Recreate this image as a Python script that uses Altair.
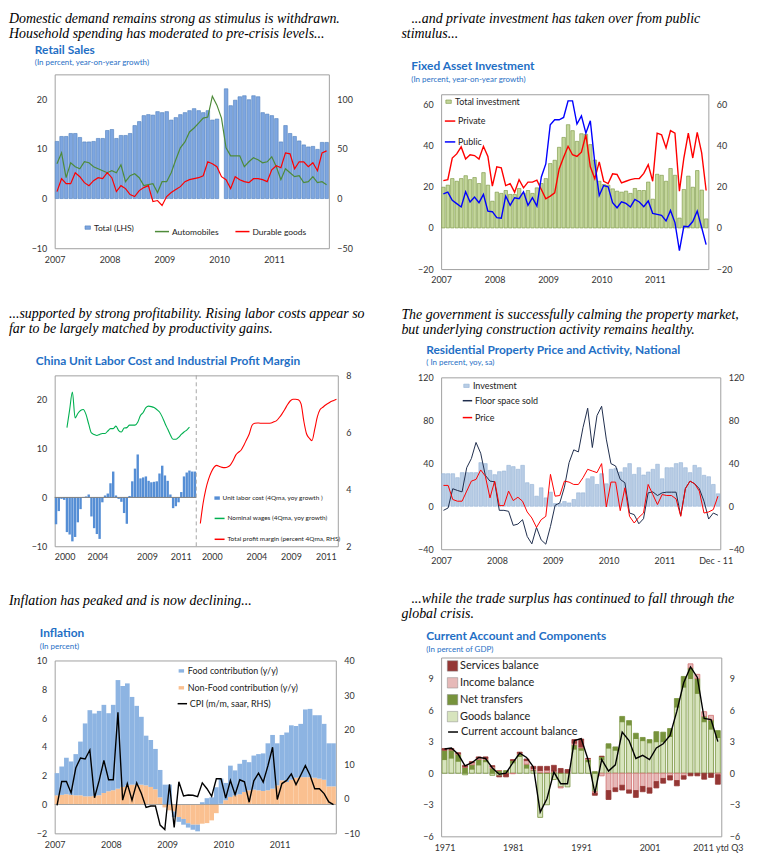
import altair as alt
import pandas as pd

FONT = "Lato"
SERIF = "Liberation Serif"
BLUE = "#1F6FC5"
AX = "#333333"
RECT = "M-1,-0.62L1,-0.62L1,0.62L-1,0.62Z"

# ---------------- captions / titles ----------------
cap1 = ["Domestic demand remains strong as stimulus is withdrawn.",
        "Household spending has moderated to pre-crisis levels..."]
cap2 = ["\u2800...and private investment has taken over from public",
        "stimulus..."]
cap3 = ["...supported by strong profitability. Rising labor costs appear so",
        "far to be largely matched by productivity gains."]
cap4 = ["The government is successfully calming the property market,",
        "but underlying construction activity remains healthy."]
cap5 = ["Inflation has peaked and is now declining..."]
cap6 = ["\u2800...while the trade surplus has continued to fall through the",
        "global crisis."]

# ---------------- panel 1: retail sales (monthly 2007-2011) ----------------
retail_total = [11.5, 12.5, 12.5, 13.1, 13.1, 12.3, 11.4, 11.4, 11.5, 12.1, 12.1, 13.7,
                13.9, 12.1, 12.7, 12.7, 13.1, 14.7, 15.5, 16.7, 16.9, 16.8, 17.5, 17.3,
                17.5, 15.8, 16.3, 16.9, 17.3, 17.7, 18.1, 17.7, 17.3, 17.7, 15.8, 16.0,
                None, 22.1, 18.7, 19.8, 20.5, 20.7, 19.9, 20.7, 20.5, 17.3, 17.0, 16.7,
                16.1, 11.4, 14.7, 13.1, 12.5, 11.6, 10.8, 10.4, 10.5, 9.9, 11.3, 11.3]
retail_auto = [35, 46, 21, 36, 32, 30, 37, 36, 32, 30, 28, 26, 28, 26, 34, 17, 23, 25, 21, 13,
               14, 15, 6, 17, 17, 26, 39, 51, 57, 67, 71, 76, 81, 82, 103, 94, 81, 51, 43, 43,
               43, 32, 37, 41, 39, 36, 37, 42, 32, 19, 30, 26, 22, 23, 16, 17, 22, 16, 17, 14]
retail_durable = [7, 20, 15, 15, 26, 22, 16, 13, 18, 21, 20, 26, 21, 7, 13, 10, 4, 2, 8, 11,
                  13, -3, -2, -7, 2, 6, 9, 12, 17, 19, 20, 21, 23, 37, 35, 32, 22, 19, 10, 22,
                  19, 17, 16, 20, 20, 19, 17, 29, 33, 31, 46, 45, 30, 37, 37, 32, 36, 28, 46, 48]

# ---------------- panel 2: fixed asset investment ----------------
fai_total = [19.8, 20.8, 24.0, 22.7, 24.0, 25.4, 23.5, 24.5, 21.6, 26.9, 20.8, 13.0,
             17.4, 16.8, 18.2, 16.3, 16.3, 19.2, 16.8, 18.2, 16.8, 19.5, 21.6, 24.0,
             31.3, 32.9, 39.2, 44.0, 50.2, 47.3, 42.1, 45.8, 45.5, 40.5, 33.0, 22.7,
             21.1, 20.8, 19.0, 17.9, 17.4, 17.9, 16.8, 19.2, 18.2, 18.2, 22.3, 14.0,
             26.1, 25.6, 22.7, 28.9, 25.6, 4.8, 18.7, 25.2, 19.8, 27.9, 18.4, 4.4]
fai_private = [23, 23.5, 34, 36, 39.4, 33.5, 35.6, 35.2, 33.5, 39.7, 34.8, 20.3, 29.7, 29.2, 20.6,
               21.5, 17.4, 23.5, 19.5, 22.3, 22.3, 23.2, 18.7, 14.2, 15.5, 17.1, 28.7, 34.4, 39.7,
               35.6, 34.8, 36.8, 45.3, 29.7, 23.9, 32.1, 22.7, 21.6, 26.3, 26, 21.9, 22.7, 23.5,
               24, 24, 26.5, 30.8, 22.7, 46.1, 45.3, 38.9, 47.3, 46.1, 17.9, 34, 46.1, 34, 46.5,
               36.5, 18.2]
fai_public = [16.6, 17.4, 13.4, 11.8, 10.2, 17.6, 12.6, 15, 12.3, 16.3, 8.2, 7.9, 5, 4.7, 15.5,
              11, 14.7, 14.2, 17.6, 11, 14.7, 10.6, 24.8, 31.1, 50.2, 52.6, 52.6, 53.7, 61.8,
              61.8, 50.5, 54.5, 46.1, 52.1, 31.6, 15.8, 20.6, 20, 12.3, 9.8, 12.7, 11.9, 10.2,
              13.9, 12.6, 10.3, 13.1, 7.1, 6.6, 6.1, 3.4, 8.5, 2.6, -11, 0.8, 0.6, 3.1, 8.2,
              0.2, -8.1]

# ---------------- panel 3: unit labor cost / profit margin (quarterly) ----------------
ulc = [-5.5, -2.8, -0.3, -0.5, -7.1, -7.6, -9.0, -8.1, -5.1, -2.4, 0.1, 0.2, 0.6, -3.9,
       -6.3, -7.5, -8.5, -1.0, 0.4, 0.8, 2.9, 5.3, 0.4, -0.3, -0.9, -3.2, -5.4, 0.3, 3.3,
       5.9, 8.8, 3.9, 4.1, 4.3, 3.4, 3.1, 3.2, 3.3, 4.9, 6.5, 4.5, 3.4, 0.6, -2.2, -1.8,
       -1.0, 1.1, 4.3, 5.1, 5.5, 5.3, 5.3]
wages = [None, None, None, None, 14.3, 18.0, 21.6, 16.3, 17.2, 17.8, 18.0, 17.0, 15.0, 13.2,
         12.9, 12.7, 12.9, 13.1, 13.1, 13.6, 14.1, 14.1, 14.6, 13.7, 13.4, 14.2, 14.3, 14.8,
         14.8, 14.8, 15.4, 16.8, 17.4, 18.4, 18.7, 18.6, 18.4, 18.0, 17.5, 16.5, 15.2, 14.0,
         12.8, 11.9, 11.9, 12.3, 12.9, 13.4, 13.8, 14.4, None, None]
profit = [None, 2.8, 3.5, 4.0, 4.35, 4.6, 4.77, 4.84, 4.8, 4.77, 4.76, 4.78, 4.85, 5.0, 5.2,
          5.3, 5.38, 5.55, 5.75, 5.95, 6.25, 6.32, 6.33, 6.32, 6.32, 6.32, 6.32, 6.33, 6.37,
          6.41, 6.52, 6.65, 6.8, 6.97, 7.1, 7.16, 7.16, 7.14, 7.0, 6.4, 5.95, 5.8, 5.71, 6.1,
          6.55, 6.8, 6.88, 6.96, 7.02, 7.08, 7.12, 7.16]
ulc_label_pos = [3.65, 15.7, 33.9, 46.3]
profit_label_pos = [5.7, 22.1, 34.8, 47.6]
ulc_year_labels = ["2000", "2004", "2009", "2011"]

# ---------------- panel 4: residential property ----------------
prop_invest = [30.3, 30.3, 30.3, 26.6, 31.3, 31.3, 31.3, 31.3, 40.6, 39.7, 33.4, 29.4,
               32.2, 32.8, 38.1, 36.9, 34.4, 38.1, 21.9, 20.3, 9.4, 17.2, 7.8, 13.1,
               2.5, 2.5, 4.4, 3.1, 6.3, 12.5, 12.5, 25.6, 27.5, 20.3, 30.3, 20.9,
               34.4, 35.0, 31.9, 35.9, 39.7, 29.7, 35.9, 29.1, 31.9, 34.4, 39.1, 25.6,
               35.9, 35.9, 39.7, 40.6, 35.9, 31.3, 38.1, 35.9, 28.8, 27.5, 20.3, 11.6]
prop_floor = [-3.8, -1.6, 16.3, 14.7, 13.4, 35.9, 44.4, 59.4, 49.4, 28.8, 23.4, 22.8, -3.8,
              -3.8, -4.7, -17.8, -16.6, -12.5, -28.1, -35, -19.7, -31.3, -35.3, -18.8, 0.9,
              3.1, 17.8, 40.6, 52.5, 50.6, 73.4, 91.3, 54.7, 84.4, 93.1, 62.5, 39.7, 37.5, 25,
              21.9, -6.3, -7.8, -16.3, -11.6, 12.5, 13.4, 10, 12.5, 13.1, 13.1, 13.1, -8.8,
              16.6, 23.4, 20.9, 16.3, 4.7, -11.9, -6.3, -8.4]
prop_price = [19.4, 19.4, 6.3, 4.7, 4.7, 14.1, 23.4, 25, 33.8, 28.1, 7.8, 23.4, 0.6, 0.6, 14.1,
              5.3, 8.4, 4.7, -5.3, -10.9, -19.7, -12.5, -9.4, 29.7, 9.4, 10, 23.4, 22.5, 20.3,
              20.3, 26.6, 34.4, 32.8, 31.3, 39.7, -0.6, 22.5, 22.5, -4.1, 17.2, -9.4, -15.6,
              -10.3, -6.3, 20.3, 10.9, 1.6, 10.9, 10, 10, 6.9, -9.4, 16.3, 23.4, 20.9, 14.1,
              -6.3, -5.3, -3.1, 9.4]

# ---------------- panel 5: inflation ----------------
infl_food = [1.54, 1.97, 2.53, 2.32, 2.86, 3.73, 5.06, 5.98, 5.72, 5.86, 6.12, 5.42, 5.93,
             7.54, 7.01, 7.08, 6.09, 5.47, 4.71, 3.45, 3.26, 2.8, 1.9, 1.38, 1.38, -0.39,
             -0.33, -0.4, -0.3, -0.35, -0.46, 0.16, 0.44, 0.5, 1.2, 1.75, 1.2, 2.17, 1.73,
             2.12, 2.23, 1.95, 2.37, 2.51, 2.61, 3.26, 3.73, 2.92, 3.15, 3.44, 3.78, 3.59,
             3.7, 4.7, 4.74, 4.34, 4.4, 3.88, 2.99, 2.99]
infl_nonfood = [0.64, 0.67, 0.71, 0.67, 0.64, 0.64, 0.57, 0.57, 0.6, 0.64, 0.8, 0.92, 0.99,
                1.1, 1.22, 1.33, 1.38, 1.38, 1.38, 1.33, 1.22, 1.06, 0.5, -0.2, -0.4, -0.48,
                -0.87, -1.0, -1.3, -1.4, -1.4, -1.33, -1.29, -1.1, -0.6, 0.05, 0.3, 0.53, 0.64,
                0.71, 0.87, 0.99, 1.03, 0.99, 0.94, 0.99, 1.1, 1.33, 1.68, 1.56, 1.72, 1.86,
                1.9, 1.9, 1.9, 1.86, 1.8, 1.72, 1.26, 1.26]
infl_cpi = [-1.9, 5.0, 5.0, 1.7, 8.9, 11.8, 11.5, 14.1, 0.3, 5.3, 11.1, 5.5, 5.5, 25, -0.4, 4.4,
            -0.4, 4.6, 1.5, -2.5, -2.1, -2.1, -7.6, -8.9, 4.2, -8.3, 4.9, 0.8, 1.1, 1.0, 0.6,
            4.6, 2.9, 0.7, 5.8, 5.8, 0.2, 5.3, 1.2, 5.5, 4.9, -1.0, 5.2, 7.4, 4.8, 9.5, 14.9,
            -0.2, 4.4, 5.3, 7.2, 4.1, 6.8, 9.6, 6.8, 2.9, 2.9, 1.5, -0.9, -1.7]

# ---------------- panel 6: current account (annual 1971-2011) ----------------
ca_goods = [1.3, 1.45, 1.15, -0.15, 0.4, 0.8, 1.1, -0.2, -0.25, 0.1, 1.0, 1.6, 0.5, 0.25,
            -4.2, -3.0, -0.6, -1.3, -1.3, 2.3, 2.2, 1.1, -1.75, 1.3, 2.4, 2.2, 4.9, 4.6, 3.3,
            3.1, 2.9, 3.0, 3.0, 3.5, 6.3, 8.2, 9.0, 7.6, 4.9, 4.2, 3.4]
ca_transfers = [0.9, 0.75, 0.65, 0.55, 0.4, 0.5, 0.2, 0.47, 0.25, 0.15, 0.2, 0.2, 0.35, 0.05,
                0.05, 0.05, 0.1, 0.05, 0.05, 0.4, 0.2, 0.2, 0.15, 0.3, 0.4, 0.3, 0.5, 0.4, 0.5,
                0.3, 0.3, 0.95, 0.9, 0.75, 0.8, 1.0, 1.0, 1.4, 0.5, 0.85, 0.65]
ca_income = [0.0, 0.05, 0.05, 0.05, 0.2, 0.15, 0.1, 0.15, 0.0, -0.05, -0.05, 0.1, 0.35, 0.15,
             0.2, 0.25, 0.1, -0.1, 0.0, 0.15, 0.1, 0.1, -0.15, -0.25, -1.65, -1.4, -1.15, -1.6,
             -1.65, -1.26, -1.4, -0.8, -0.5, -0.25, -0.7, -0.25, 0.4, 0.4, 0.45, 0.45, -0.15]
ca_services = [0.15, 0.1, 0.1, 0.15, 0.1, 0.1, 0.15, 0.1, -0.1, -0.3, 0.1, 0.1, 0.15, 0.2,
               0.4, 0.35, 0.55, 0.4, 0.3, 0.35, 0.75, 0.0, -0.2, 0.0, -0.85, -0.35, -0.45, -0.3,
               -0.65, -0.5, -0.5, -0.6, -0.45, -0.4, -0.5, -0.32, -0.25, -0.25, -0.57, -0.4, -0.9]
ca_balance = [2.3, 2.4, 1.8, 0.7, 1.0, 1.5, 1.4, 0.5, -0.1, 0.0, 1.0, 1.9, 1.5, 0.6, -3.7, -2.4,
              0.1, -1.0, -1.0, 3.1, 3.3, 1.3, -1.9, 1.3, 0.2, 0.8, 3.9, 3.1, 1.4, 1.7, 1.3, 2.4,
              2.8, 3.6, 5.9, 8.6, 10.1, 9.1, 5.2, 5.1, 3.0]
ca_first_year = 1971

# left extents (axis area) shared by every cell of a column
E1 = 46
E2 = 40


# ---------------- helpers ----------------
def lab_axis(**kw):
    base = dict(domain=False, ticks=False, grid=False, labelFont=FONT, labelFontSize=9,
                labelColor=AX, labelOverlap=False, labelFlush=False)
    base.update(kw)
    return alt.Axis(**base)


def y_axis(orient, values, ext):
    return lab_axis(orient=orient, values=values, labelPadding=8, minExtent=ext, maxExtent=ext)


def month_x_axis(extra=None):
    vals = [0, 12, 24, 36, 48]
    expr = "format(2007 + floor(datum.value/12), 'd')"
    if extra is not None:
        vals = vals + [extra]
        expr = "datum.value > 50 ? 'Dec - 11' : " + expr
    return lab_axis(values=vals, labelExpr=expr, labelPadding=7)


def legend(x, y, direction="vertical", symbol="stroke", size=150, fs=9, row=6, col=10,
           stroke_color=None, stroke_w=None, label_offset=2):
    kw = dict(orient="none", legendX=x, legendY=y, direction=direction, title=None,
              symbolType=symbol, symbolSize=size, labelFont=FONT, labelFontSize=fs,
              labelColor="#222", rowPadding=row, columnPadding=col, labelOffset=label_offset,
              padding=0)
    if stroke_color is not None:
        kw["symbolStrokeColor"] = stroke_color
    if stroke_w is not None:
        kw["symbolStrokeWidth"] = stroke_w
    return alt.Legend(**kw)


def chart_title(text, dx, sub=None, offset=8):
    kw = dict(text=text, anchor="start", frame="group", dx=dx, font=FONT, fontSize=12,
              fontWeight="bold", color=BLUE, offset=offset)
    if sub is not None:
        kw.update(subtitle=sub, subtitleFont=FONT, subtitleFontSize=8, subtitleColor=BLUE,
                  subtitlePadding=3)
    return alt.TitleParams(**kw)


def long_df(n, series, offset=0.5):
    rows = []
    for name, vals in series:
        for i, v in enumerate(vals):
            rows.append({"x": i + offset, "v": v, "s": name})
    return pd.DataFrame(rows)


def bar_df(vals, gap0=0.12, gap1=0.9, shift=0):
    return pd.DataFrame({"x0": [shift + i + gap0 for i in range(len(vals))],
                         "x1": [shift + i + gap1 for i in range(len(vals))],
                         "v": vals})


def stack_df(components, gap0=0.12, gap1=0.9):
    rows = []
    n = len(components[0][1])
    for i in range(n):
        pos = 0.0
        neg = 0.0
        for name, vals in components:
            v = vals[i]
            if v >= 0:
                y0, y1 = pos, pos + v
                pos += v
            else:
                y0, y1 = neg, neg + v
                neg += v
            rows.append({"x0": i + gap0, "x1": i + gap1, "y0": y0, "y1": y1, "s": name})
    return pd.DataFrame(rows)


RES = dict(fill="independent", stroke="independent")
LINE_H = 15


def caption(lines, ext):
    df = pd.DataFrame({"k": list(range(len(lines))), "t": lines})
    return alt.Chart(df).mark_text(
        align="left", baseline="middle", font=SERIF, fontSize=14, fontStyle="italic",
        color="#000000", dx=-ext).encode(
        y=alt.Y("k:O", axis=None, title=None,
                scale=alt.Scale(paddingInner=0, paddingOuter=0)),
        x=alt.value(0),
        text="t:N",
    ).properties(width=200, height=LINE_H * len(lines),
                 view=alt.ViewBackground(stroke="transparent"))


def stack(items, spacing, cols=1):
    return alt.concat(*items, columns=cols, spacing=spacing, align="none").resolve_scale(**RES)


# ---------------- panel 1 ----------------
n1 = len(retail_total)
xs1 = alt.Scale(domain=[0, n1], nice=False, zero=False)
b1 = alt.Chart(bar_df(retail_total)).transform_calculate(s="'Total (LHS)'").mark_bar(
    stroke="#4F81BD", strokeWidth=0.6).encode(
    x=alt.X("x0:Q", scale=xs1, axis=month_x_axis(), title=None),
    x2="x1:Q",
    y=alt.Y("v:Q", scale=alt.Scale(domain=[-10, 25], nice=False),
            axis=y_axis("left", [-10, 0, 10, 20], E1), title=None),
    y2=alt.datum(0),
    fill=alt.Fill("s:N", scale=alt.Scale(domain=["Total (LHS)"], range=["#7EA6E0"]),
                  legend=legend(29, 150, "horizontal", RECT, 30, fs=8.5, stroke_color="#4F81BD",
                                stroke_w=0.6)),
)
l1 = alt.Chart(long_df(n1, [("Automobiles", retail_auto), ("Durable goods", retail_durable)])
               ).mark_line(strokeWidth=1.2).encode(
    x=alt.X("x:Q", scale=xs1, axis=month_x_axis(), title=None),
    y=alt.Y("v:Q", scale=alt.Scale(domain=[-50, 125], nice=False),
            axis=y_axis("right", [-50, 0, 50, 100], 56), title=None),
    stroke=alt.Stroke("s:N", scale=alt.Scale(domain=["Automobiles", "Durable goods"],
                                             range=["#4E8B3A", "#FF0000"]),
                      legend=legend(100, 150, "horizontal", "stroke", 200, fs=8.5, col=12)),
)
p1 = alt.layer(b1, l1).resolve_scale(y="independent").properties(
    width=276, height=175, title=chart_title("Retail Sales", -20,
                                             "(In percent, year-on-year growth)", 6))

# ---------------- panel 2 ----------------
n2 = len(fai_total)
xs2 = alt.Scale(domain=[0, n2], nice=False, zero=False)
b2 = alt.Chart(bar_df(fai_total)).transform_calculate(s="'Total investment'").mark_bar(
    stroke="#77933C", strokeWidth=0.6).encode(
    x=alt.X("x0:Q", scale=xs2, axis=month_x_axis(), title=None),
    x2="x1:Q",
    y=alt.Y("v:Q", scale=alt.Scale(domain=[-20, 65], nice=False),
            axis=y_axis("left", [-20, 0, 20, 40, 60], E2), title=None),
    y2=alt.datum(0),
    fill=alt.Fill("s:N", scale=alt.Scale(domain=["Total investment"], range=["#C3D69B"]),
                  legend=legend(3, 3, "vertical", RECT, 30, stroke_color="#77933C",
                                stroke_w=0.6)),
)
l2 = alt.Chart(long_df(n2, [("Private", fai_private), ("Public", fai_public)])
               ).mark_line(strokeWidth=1.4).encode(
    x=alt.X("x:Q", scale=xs2, axis=month_x_axis(), title=None),
    y=alt.Y("v:Q", scale=alt.Scale(domain=[-20, 65], nice=False),
            axis=y_axis("right", [-20, 0, 20, 40, 60], 40), title=None),
    stroke=alt.Stroke("s:N", scale=alt.Scale(domain=["Private", "Public"],
                                             range=["#FF0000", "#0000FF"]),
                      legend=legend(3, 21, "vertical", "stroke", 110, row=10)),
)
p2 = alt.layer(b2, l2).resolve_scale(y="independent").properties(
    width=269, height=176, title=chart_title("Fixed Asset Investment", -30,
                                             "(In percent, year-on-year growth)", 9))

# ---------------- panel 3 ----------------
nq = len(ulc)
xs3 = alt.Scale(domain=[0, 2 * nq], nice=False, zero=False)
L = ulc_year_labels
x3_expr = (f"(datum.value % {nq}) < 8 ? '{L[0]}' : (datum.value % {nq}) < 25 ? '{L[1]}' : "
           f"(datum.value % {nq}) < 40 ? '{L[2]}' : '{L[3]}'")
x3_axis = lab_axis(values=ulc_label_pos + [nq + p for p in profit_label_pos],
                   labelExpr=x3_expr, labelPadding=6)
yl3 = alt.Scale(domain=[-10, 25], nice=False)
b3 = alt.Chart(bar_df(ulc, 0.06, 0.94)).transform_calculate(
    s="'Unit labor cost (4Qma, yoy growth )'").mark_bar(color="#558ED5").encode(
    x=alt.X("x0:Q", scale=xs3, axis=x3_axis, title=None),
    x2="x1:Q",
    y=alt.Y("v:Q", scale=yl3, axis=y_axis("left", [-10, 0, 10, 20], E1), title=None),
    y2=alt.datum(0),
    fill=alt.Fill("s:N", scale=alt.Scale(domain=["Unit labor cost (4Qma, yoy growth )"],
                                         range=["#558ED5"]),
                  legend=legend(160, 120, "vertical", RECT, 30, fs=6.5)),
)
STROKE3 = ["Nominal wages (4Qma, yoy growth)", "Total profit margin (percent 4Qma, RHS)"]
stroke3 = alt.Scale(domain=STROKE3, range=["#00B050", "#FF0000"])
zero3 = alt.Chart(pd.DataFrame({"a": [0], "b": [nq], "y": [0]})).mark_rule(
    color="#7F7F7F", strokeWidth=1).encode(
    x=alt.X("a:Q", scale=xs3, axis=x3_axis, title=None), x2="b:Q",
    y=alt.Y("y:Q", scale=yl3, axis=y_axis("left", [-10, 0, 10, 20], E1), title=None))
split3 = alt.Chart(pd.DataFrame({"a": [nq]})).mark_rule(
    color="#A6A6A6", strokeWidth=1, strokeDash=[4, 3]).encode(
    x=alt.X("a:Q", scale=xs3, axis=x3_axis, title=None))
g3 = alt.Chart(long_df(nq, [(STROKE3[0], wages)])).mark_line(
    strokeWidth=1.1, interpolate="monotone").encode(
    x=alt.X("x:Q", scale=xs3, axis=x3_axis, title=None),
    y=alt.Y("v:Q", scale=yl3, axis=y_axis("left", [-10, 0, 10, 20], E1), title=None),
    stroke=alt.Stroke("s:N", scale=stroke3,
                      legend=legend(160, 138, "vertical", "stroke", 100, fs=6.5, row=11)),
)
r3 = alt.Chart(long_df(nq, [(STROKE3[1], profit)], offset=nq + 0.5)).mark_line(
    strokeWidth=1.1, interpolate="monotone").encode(
    x=alt.X("x:Q", scale=xs3, axis=x3_axis, title=None),
    y=alt.Y("v:Q", scale=alt.Scale(domain=[2, 8], nice=False),
            axis=y_axis("right", [2, 4, 6, 8], 38), title=None),
    stroke=alt.Stroke("s:N", scale=stroke3,
                      legend=legend(160, 138, "vertical", "stroke", 100, fs=6.5, row=11)),
)
p3 = alt.layer(alt.layer(b3, zero3, split3, g3), r3).resolve_scale(y="independent").properties(
    width=285, height=172,
    title=chart_title("China Unit Labor Cost and Industrial Profit Margin", -19, None, 3))

# ---------------- panel 4 ----------------
n4 = len(prop_invest)
xs4 = alt.Scale(domain=[0, n4], nice=False, zero=False)
b4 = alt.Chart(bar_df(prop_invest)).transform_calculate(s="'Investment'").mark_bar(
    stroke="#95B3D7", strokeWidth=0.6).encode(
    x=alt.X("x0:Q", scale=xs4, axis=month_x_axis(n4 - 1), title=None),
    x2="x1:Q",
    y=alt.Y("v:Q", scale=alt.Scale(domain=[-40, 120], nice=False),
            axis=y_axis("left", [-40, 0, 40, 80, 120], E2), title=None),
    y2=alt.datum(0),
    fill=alt.Fill("s:N", scale=alt.Scale(domain=["Investment"], range=["#B9CDE5"]),
                  legend=legend(21, 4, "vertical", RECT, 30, stroke_color="#95B3D7",
                                stroke_w=0.6)),
)
l4 = alt.Chart(long_df(n4, [("Floor space sold", prop_floor), ("Price", prop_price)])
               ).mark_line(strokeWidth=1).encode(
    x=alt.X("x:Q", scale=xs4, axis=month_x_axis(n4 - 1), title=None),
    y=alt.Y("v:Q", scale=alt.Scale(domain=[-40, 120], nice=False),
            axis=y_axis("right", [-40, 0, 40, 80, 120], 40), title=None),
    stroke=alt.Stroke("s:N", scale=alt.Scale(domain=["Floor space sold", "Price"],
                                             range=["#1F2D4D", "#FF0000"]),
                      legend=legend(21, 18, "vertical", "stroke", 90, row=6)),
)
p4 = alt.layer(b4, l4).resolve_scale(y="independent").properties(
    width=281, height=173,
    title=chart_title("Residential Property Price and Activity, National", -15,
                      "( In percent, yoy, sa)", 5))

# ---------------- panel 5 ----------------
n5 = len(infl_food)
xs5 = alt.Scale(domain=[0, n5], nice=False, zero=False)
FILL5 = ["Food contribution (y/y)", "Non-Food contribution (y/y)"]
st5 = stack_df([(FILL5[1], infl_nonfood), (FILL5[0], infl_food)], 0.0, 1.0)
yl5 = alt.Scale(domain=[-2, 10], nice=False)
b5 = alt.Chart(st5).mark_bar().encode(
    x=alt.X("x0:Q", scale=xs5, axis=month_x_axis(), title=None),
    x2="x1:Q",
    y=alt.Y("y0:Q", scale=yl5, axis=y_axis("left", [-2, 0, 2, 4, 6, 8, 10], E1), title=None),
    y2="y1:Q",
    fill=alt.Fill("s:N", scale=alt.Scale(domain=FILL5, range=["#8DB4E2", "#FAC090"]),
                  legend=legend(123, 6, "vertical", RECT, 30, row=7)),
)
zero5 = alt.Chart(pd.DataFrame({"y": [0]})).mark_rule(color="#A0A0A0", strokeWidth=1).encode(
    y=alt.Y("y:Q", scale=yl5, axis=y_axis("left", [-2, 0, 2, 4, 6, 8, 10], E1), title=None))
l5 = alt.Chart(long_df(n5, [("CPI (m/m, saar, RHS)", infl_cpi)])).mark_line(
    strokeWidth=1.4, color="#000000").encode(
    x=alt.X("x:Q", scale=xs5, axis=month_x_axis(), title=None),
    y=alt.Y("v:Q", scale=alt.Scale(domain=[-10, 40], nice=False),
            axis=y_axis("right", [-10, 0, 10, 20, 30, 40], 40), title=None),
    stroke=alt.Stroke("s:N", scale=alt.Scale(domain=["CPI (m/m, saar, RHS)"], range=["#000000"]),
                      legend=legend(123, 38, "vertical", "stroke", 90)),
)
p5 = alt.layer(alt.layer(b5, zero5), l5).resolve_scale(y="independent").properties(
    width=283, height=174,
    title=chart_title("Inflation", -15, "(In percent)", 5))

# ---------------- panel 6 ----------------
n6 = len(ca_goods)
xs6 = alt.Scale(domain=[0, n6], nice=False, zero=False)
FILL6 = ["Services balance", "Income balance", "Net transfers", "Goods balance"]
st6 = stack_df([(FILL6[3], ca_goods), (FILL6[2], ca_transfers), (FILL6[1], ca_income),
                (FILL6[0], ca_services)], 0.14, 0.86)
x6_expr = (f"datum.value > {n6 - 2} ? '2011 ytd Q3' : "
           f"format({ca_first_year} + floor(datum.value), 'd')")
x6_axis = lab_axis(values=[0.5, 10.5, 20.5, 30.5, 40.5], labelExpr=x6_expr, labelPadding=7)
yl6 = alt.Scale(domain=[-6, 11], nice=False)
b6 = alt.Chart(st6).mark_bar(strokeWidth=0.8).encode(
    x=alt.X("x0:Q", scale=xs6, axis=x6_axis, title=None),
    x2="x1:Q",
    y=alt.Y("y0:Q", scale=yl6, axis=y_axis("left", [-6, -3, 0, 3, 6, 9], E2), title=None),
    y2="y1:Q",
    fill=alt.Fill("s:N", scale=alt.Scale(domain=FILL6,
                                         range=["#953735", "#E6B9B8", "#77933C", "#D7E4BD"]),
                  legend=legend(6, 3, "vertical", "square", 110, fs=11, row=4,
                                stroke_color="#8A8A8A", stroke_w=0.5)),
    stroke=alt.Stroke("s:N", scale=alt.Scale(domain=FILL6,
                                             range=["#953735", "#D07070", "#77933C", "#77933C"]),
                      legend=None),
)
zero6 = alt.Chart(pd.DataFrame({"y": [0]})).mark_rule(color="#A0A0A0", strokeWidth=0.8).encode(
    y=alt.Y("y:Q", scale=yl6, axis=y_axis("left", [-6, -3, 0, 3, 6, 9], E2), title=None))
l6 = alt.Chart(long_df(n6, [("Current account balance", ca_balance)])).mark_line(
    strokeWidth=1.4).encode(
    x=alt.X("x:Q", scale=xs6, axis=x6_axis, title=None),
    y=alt.Y("v:Q", scale=yl6, axis=y_axis("right", [-6, -3, 0, 3, 6, 9], 40), title=None),
    stroke=alt.Stroke("s:N", scale=alt.Scale(domain=["Current account balance"],
                                             range=["#000000"]),
                      legend=legend(6, 69, "vertical", "stroke", 100, fs=11)),
)
p6 = alt.layer(alt.layer(zero6, b6), l6).resolve_scale(y="independent", stroke="independent").properties(
    width=282, height=180,
    title=chart_title("Current Account and Components", -15, "(In percent of GDP)", 3))

# ---------------- layout ----------------
col1 = stack([
    stack([caption(cap1, E1), p1], 0),
    stack([stack([caption(cap3, E1), p3], 17), stack([caption(cap5, E1), p5], 16)], 31),
], 41)
col2 = stack([
    stack([caption(cap2, E2), p2], 17),
    stack([stack([caption(cap4, E2), p4], 4), stack([caption(cap6, E2), p6], 6)], 25),
], 21)

chart = stack([col1, col2], 15, cols=2).properties(
    padding=0
).configure_view(stroke="#A0A0A0", strokeWidth=1)

chart.save("out.html", embed_options={"renderer": "svg", "actions": False})
